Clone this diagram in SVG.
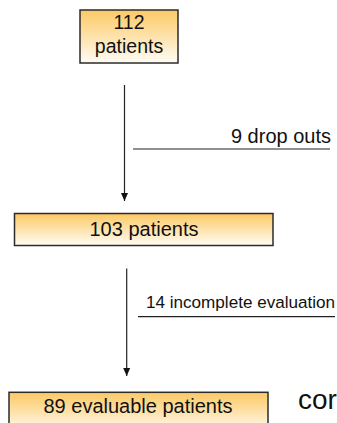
<svg xmlns="http://www.w3.org/2000/svg" width="337" height="423" viewBox="0 0 337 423">
  <style>
    .box { stroke: #2b2b2b; stroke-width: 1.5; fill: url(#g); }
    .t { font-family: "Liberation Sans", Arial, sans-serif; fill: #111; }
    .ln { stroke: #222; stroke-width: 1.2; fill: none; }
  </style>
  <defs>
    <linearGradient id="g" x1="0" y1="0" x2="0" y2="1">
      <stop offset="0" stop-color="#fcc964"/>
      <stop offset="1" stop-color="#fffcf4"/>
    </linearGradient>
    <marker id="ah" markerUnits="userSpaceOnUse" markerWidth="10" markerHeight="10" viewBox="0 0 10 10" refX="8" refY="5" orient="auto">
      <path d="M0,1.5 L8,5 L0,8.5 Z" fill="#111"/>
    </marker>
  </defs>
  <g id="connectors">
    <line class="ln" x1="124.5" y1="85" x2="124.5" y2="201" marker-end="url(#ah)"/>
    <line class="ln" x1="133" y1="149" x2="330" y2="149"/>
    <text class="t" x="331" y="142.5" font-size="20" text-anchor="end">9 drop outs</text>
    <line class="ln" x1="126.7" y1="268.5" x2="126.7" y2="376" marker-end="url(#ah)"/>
    <line class="ln" x1="138" y1="316.7" x2="335" y2="316.7"/>
    <text class="t" x="146" y="307.5" font-size="17.1">14 incomplete evaluation</text>
  </g>
  <g id="node1">
    <rect class="box" x="80" y="10" width="98" height="53"/>
    <text class="t" x="129" y="29" font-size="19.5" text-anchor="middle">112</text>
    <text class="t" x="129" y="53" font-size="19.5" text-anchor="middle">patients</text>
  </g>
  <g id="node2">
    <rect class="box" x="14.5" y="213.5" width="258.5" height="32"/>
    <text class="t" x="144" y="236" font-size="20" text-anchor="middle">103 patients</text>
  </g>
  <g id="node3">
    <rect class="box" x="9" y="392.3" width="259" height="40"/>
    <text class="t" x="138" y="413" font-size="20" text-anchor="middle">89 evaluable patients</text>
  </g>
  <text class="t" x="298" y="409" font-size="28">cor</text>
</svg>
